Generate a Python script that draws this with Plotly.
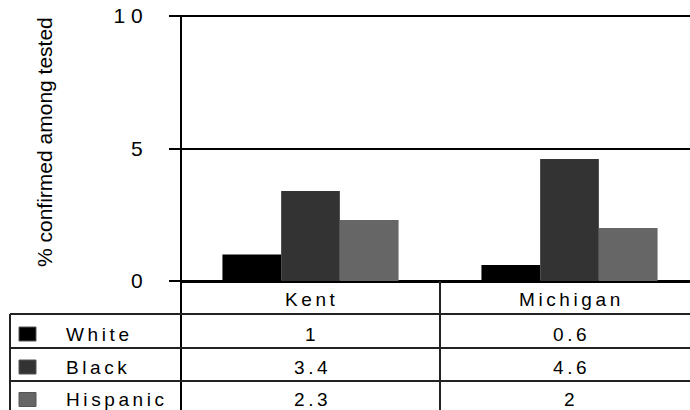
import plotly.graph_objects as go

# Data
regions = ["Kent", "Michigan"]
groups = ["White", "Black", "Hispanic"]
white = [1, 0.6]
black = [3.4, 4.6]
hispanic = [2.3, 2]
series = [white, black, hispanic]
colors = ["#000000", "#333333", "#666666"]
y_ticks = [0, 5, 10]

FONT = "Liberation Sans, Arial, sans-serif"
W, H = 690, 410
L, R, T, B = 181, 690, 16, 281  # plot area in pixels
GAP = 3.6  # letter spacing used in the table text


def px_x(px):
    return (px - L) / (R - L)


def px_y(py):
    return (B - py) / (B - T)


def spaced(s, gap=GAP):
    return f'<span style="letter-spacing:{gap}px">{s}</span>'


fig = go.Figure()
for name, vals, col in zip(groups, series, colors):
    fig.add_trace(go.Bar(
        x=regions, y=vals, name=name,
        marker=dict(color=col, line=dict(width=0)),
        showlegend=False,
    ))

shapes = []
line_dark = dict(color="#000000", width=2)
line_row = dict(color="#222222", width=2)

# top border line at the axis maximum
shapes.append(dict(type="line", xref="paper", yref="paper",
                   x0=px_x(170), x1=1, y0=1, y1=1, line=line_dark))
# vertical axis line running down through the data table
shapes.append(dict(type="line", xref="paper", yref="paper",
                   x0=0, x1=0, y0=1, y1=px_y(H + 2), line=line_dark))
# left border of the table
shapes.append(dict(type="line", xref="paper", yref="paper",
                   x0=px_x(10), x1=px_x(10), y0=px_y(314), y1=px_y(H + 2),
                   line=line_row))
# divider between the two region columns
shapes.append(dict(type="line", xref="x", yref="paper",
                   x0=0.5, x1=0.5, y0=0, y1=px_y(H + 2), line=line_row))
# table row lines
for py in [314, 348, 381]:
    shapes.append(dict(type="line", xref="paper", yref="paper",
                       x0=px_x(10), x1=1, y0=px_y(py), y1=px_y(py),
                       line=line_row))

annotations = []
cell_font = dict(family=FONT, size=19, color="#000000")

# column headers
for reg in regions:
    annotations.append(dict(x=reg, y=px_y(299), xref="x", yref="paper",
                            text=spaced(reg), showarrow=False, font=cell_font,
                            xanchor="center", yanchor="middle",
                            xshift=GAP / 2))

row_centers = [334, 367, 399.5]
for name, vals, col, py in zip(groups, series, colors, row_centers):
    # legend key swatch
    shapes.append(dict(type="rect", xref="paper", yref="paper",
                       x0=px_x(19), x1=px_x(36),
                       y0=px_y(py - 7), y1=px_y(py + 7),
                       fillcolor=col, line=dict(color="#555555", width=1)))
    annotations.append(dict(x=px_x(64), y=px_y(py), xref="paper", yref="paper",
                            text=spaced(name), showarrow=False, font=cell_font,
                            xanchor="left", yanchor="middle"))
    for reg, v in zip(regions, vals):
        annotations.append(dict(x=reg, y=px_y(py), xref="x", yref="paper",
                                text=spaced(f"{v:g}"), showarrow=False,
                                font=cell_font,
                                xanchor="center", yanchor="middle",
                                xshift=GAP / 2))

# axis title
annotations.append(dict(x=px_x(44), y=px_y(142), xref="paper", yref="paper",
                        text="% confirmed among tested", textangle=-90,
                        showarrow=False,
                        font=dict(family=FONT, size=21, color="#000000"),
                        xanchor="center", yanchor="middle"))

cat_width_px = 440 - L
fig.update_layout(
    width=W, height=H,
    margin=dict(l=L, r=W - R, t=T, b=H - B, pad=0),
    paper_bgcolor="white", plot_bgcolor="white",
    barmode="group", bargap=0.32, bargroupgap=0,
    font=dict(family=FONT, color="#000000"),
    xaxis=dict(range=[-0.5, -0.5 + (R - L) / cat_width_px],
               showticklabels=False, ticks="", showgrid=False,
               showline=False, zeroline=False, fixedrange=True),
    yaxis=dict(range=[0, 10], tickvals=y_ticks,
               ticktext=[spaced(str(v), 6) for v in y_ticks],
               tickfont=dict(family=FONT, size=21, color="#000000"),
               ticks="outside", ticklen=11, tickwidth=2, tickcolor="#000000",
               ticklabelstandoff=16,
               showgrid=True, gridcolor="#000000", gridwidth=2,
               zeroline=True, zerolinecolor="#000000", zerolinewidth=3,
               showline=False, fixedrange=True),
    shapes=shapes,
    annotations=annotations,
)

fig.write_html("out.html")
